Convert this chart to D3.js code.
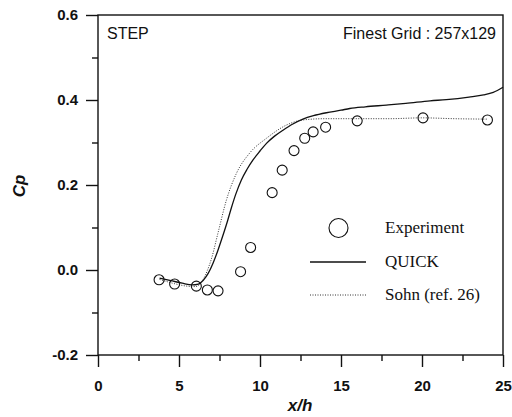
<!DOCTYPE html>
<html><head><meta charset="utf-8">
<script src="https://cdn.jsdelivr.net/npm/d3@7"></script>
<style>body{margin:0;background:#fff}svg{display:block}</style>
</head><body>
<svg id="c" width="512" height="417"></svg>
<script>
const expX = [3.77, 4.73, 6.07, 6.75, 7.41, 8.8, 9.42, 10.75, 11.37, 12.1, 12.76, 13.28, 14.05, 16.0, 20.06, 24.04];
const expY = [-0.023, -0.033, -0.038, -0.047, -0.049, -0.004, 0.053, 0.182, 0.235, 0.281, 0.31, 0.325, 0.336, 0.351, 0.358, 0.353];
const quickX = [3.8, 4.5, 5.2, 5.8, 6.2, 6.5, 6.8, 7.1, 7.4, 7.7, 8.0, 8.23, 8.5, 8.85, 9.2, 9.57, 10.0, 10.4, 10.9, 11.42, 12.0, 12.65, 13.3, 14.1, 15.0, 15.54, 16.5, 17.8, 19.0, 20.5, 21.5, 22.9, 23.8, 24.4, 25.0];
const quickY = [-0.019, -0.025, -0.031, -0.035, -0.033, -0.024, -0.008, 0.016, 0.046, 0.08, 0.116, 0.146, 0.178, 0.212, 0.237, 0.259, 0.28, 0.298, 0.315, 0.329, 0.343, 0.355, 0.363, 0.37, 0.376, 0.380, 0.384, 0.388, 0.392, 0.398, 0.401, 0.407, 0.412, 0.418, 0.43];
const sohnX = [3.8, 4.7, 5.5, 6.0, 6.3, 6.5, 6.75, 7.0, 7.4, 7.93, 8.54, 9.36, 10.4, 11.63, 12.65, 14.0, 16.0, 18.0, 20.0, 22.0, 24.0];
const sohnY = [-0.022, -0.032, -0.038, -0.039, -0.033, -0.022, -0.001, 0.026, 0.086, 0.165, 0.227, 0.275, 0.31, 0.341, 0.353, 0.356, 0.356, 0.356, 0.358, 0.356, 0.355];
const xTicks = [0, 5, 10, 15, 20, 25];
const xMinor = [2.5, 7.5, 12.5, 17.5, 22.5];
const yTicks = [-0.2, 0.0, 0.2, 0.4, 0.6];
const yMinor = [-0.1, 0.1, 0.3, 0.5];
const legendLabels = ["Experiment", "QUICK", "Sohn (ref. 26)"];

const svg = d3.select("#c");
const x = d3.scaleLinear().domain([0, 25]).range([98, 503]);
const y = d3.scaleLinear().domain([-0.2, 0.6]).range([355, 15]);
const ink = "#111";

// frame
svg.append("rect").attr("x", x(0)).attr("y", y(0.6)).attr("width", x(25) - x(0)).attr("height", y(-0.2) - y(0.6))
  .attr("fill", "none").attr("stroke", ink).attr("stroke-width", 1.4);

// axes
svg.append("g").attr("transform", `translate(0,${y(-0.2)})`)
  .call(d3.axisBottom(x).tickValues(xTicks).tickSize(12).tickPadding(13).tickFormat(d3.format("d")));
svg.append("g").attr("transform", `translate(0,${y(-0.2)})`)
  .call(d3.axisBottom(x).tickValues(xMinor).tickSize(6).tickFormat(""));
svg.append("g").attr("transform", `translate(${x(0)},0)`)
  .call(d3.axisLeft(y).tickValues(yTicks).tickSize(12).tickPadding(8).tickFormat(d => d.toFixed(1)));
svg.append("g").attr("transform", `translate(${x(0)},0)`)
  .call(d3.axisLeft(y).tickValues(yMinor).tickSize(6).tickFormat(""));
svg.selectAll(".domain").remove();
svg.selectAll(".tick line").attr("stroke", ink).attr("stroke-width", 1.4);
svg.selectAll(".tick text").attr("fill", ink).attr("font-family", "Liberation Sans, Arial, sans-serif")
  .attr("font-weight", "bold").attr("font-size", 15);

// curves
const line = d3.line().x(d => x(d[0])).y(d => y(d[1])).curve(d3.curveMonotoneX);
svg.append("path").datum(quickX.map((v, i) => [v, quickY[i]])).attr("d", line)
  .attr("fill", "none").attr("stroke", ink).attr("stroke-width", 1.3);
svg.append("path").datum(sohnX.map((v, i) => [v, sohnY[i]])).attr("d", line)
  .attr("fill", "none").attr("stroke", "#333").attr("stroke-width", 1).attr("stroke-dasharray", "1,1.5");

// experiment
svg.append("g").selectAll("circle").data(expX.map((v, i) => [v, expY[i]])).join("circle")
  .attr("cx", d => x(d[0])).attr("cy", d => y(d[1])).attr("r", 5)
  .attr("fill", "none").attr("stroke", ink).attr("stroke-width", 1.1);

// annotations
const sans = "Liberation Sans, Arial, sans-serif";
svg.append("text").attr("x", 107).attr("y", 39).attr("font-family", sans).attr("font-size", 16).attr("fill", ink).text("STEP");
svg.append("text").attr("x", 496).attr("y", 39).attr("text-anchor", "end").attr("font-family", sans).attr("font-size", 16).attr("fill", ink).text("Finest Grid : 257x129");

// axis titles
svg.append("text").attr("x", 300).attr("y", 411).attr("text-anchor", "middle").attr("font-family", sans)
  .attr("font-weight", "bold").attr("font-style", "italic").attr("font-size", 17).attr("fill", ink).text("x/h");
svg.append("text").attr("transform", "translate(25,186) rotate(-90)").attr("text-anchor", "middle").attr("font-family", sans)
  .attr("font-weight", "bold").attr("font-style", "italic").attr("font-size", 17).attr("fill", ink).text("Cp");

// legend
const serif = "Liberation Serif, Times New Roman, serif";
const lg = svg.append("g");
const ly = [228, 262, 295];
lg.append("circle").attr("cx", 338.5).attr("cy", ly[0]).attr("r", 9.5).attr("fill", "none").attr("stroke", ink).attr("stroke-width", 1.1);
lg.append("line").attr("x1", 310).attr("x2", 366).attr("y1", ly[1]).attr("y2", ly[1]).attr("stroke", ink).attr("stroke-width", 1.3);
lg.append("line").attr("x1", 310).attr("x2", 366).attr("y1", ly[2]).attr("y2", ly[2]).attr("stroke", "#333").attr("stroke-width", 1).attr("stroke-dasharray", "1,1.5");
lg.selectAll("text").data(legendLabels).join("text")
  .attr("x", 385).attr("y", (d, i) => ly[i] + 5)
  .attr("font-family", serif).attr("font-size", 17).attr("fill", ink).text(d => d);
</script>
</body></html>
